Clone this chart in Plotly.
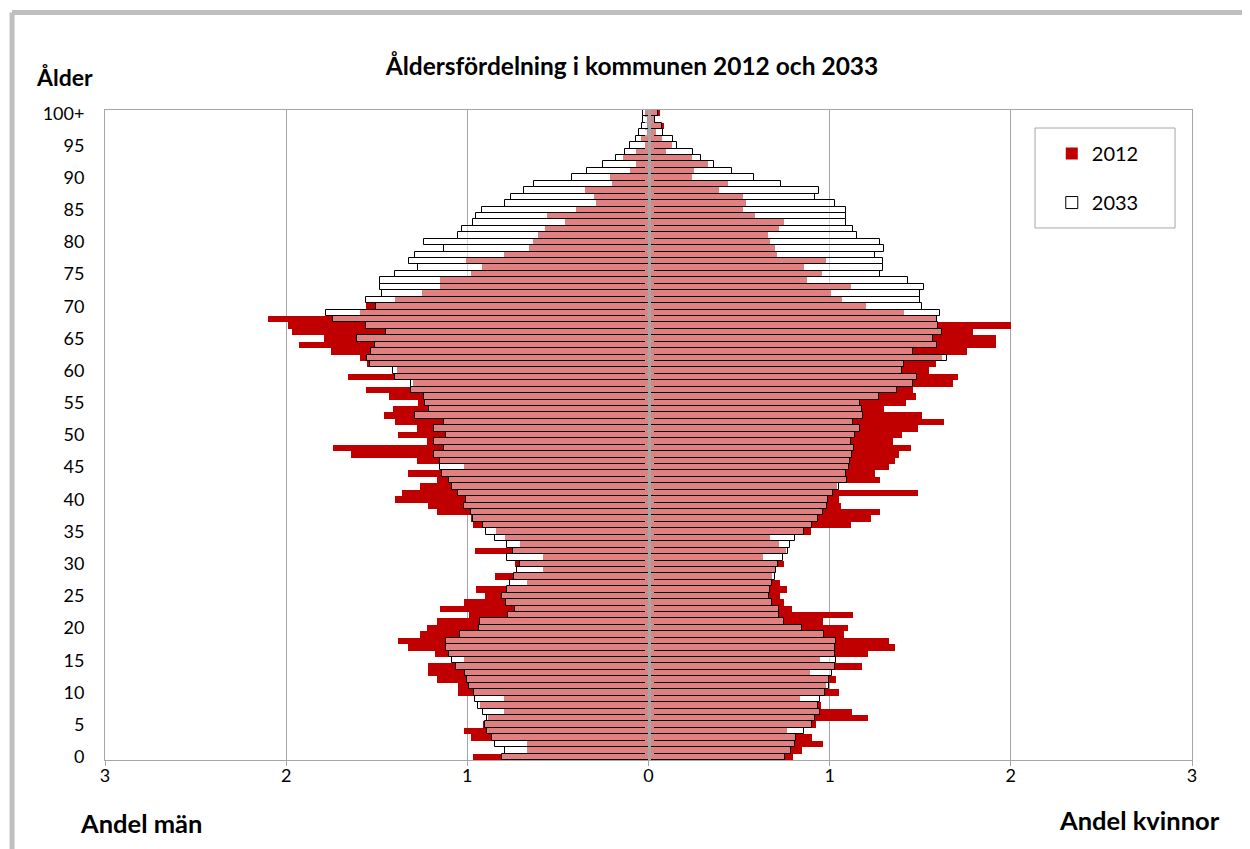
import plotly.graph_objects as go

# ---------------- data ----------------
ages = list(range(101))
age_ticks = list(range(0, 101, 5))
age_tick_labels = [str(a) for a in range(0, 100, 5)] + ["100+"]
x_ticks = [-3, -2, -1, 0, 1, 2, 3]
x_tick_labels = ["3", "2", "1", "0", "1", "2", "3"]

men_2012 = [0.97, 0.67, 0.67, 0.98, 1.02, 0.916, 0.885, 0.80, 0.93, 0.80,
            1.05, 1.05, 1.167, 1.216, 1.216, 1.02, 1.18, 1.326, 1.38, 1.26,
            1.22, 1.167, 0.99, 1.15, 1.02, 0.90, 0.95, 0.67, 0.85, 0.58,
            0.736, 0.58, 0.956, 0.71, 0.79, 0.84, 0.97, 0.98, 1.17, 1.215,
            1.40, 1.36, 1.26, 1.17, 1.33, 1.02, 1.28, 1.64, 1.74, 1.22,
            1.38, 1.28, 1.40, 1.46, 1.41, 1.27, 1.43, 1.56, 1.30, 1.66,
            1.39, 1.555, 1.59, 1.75, 1.93, 1.79, 1.97, 1.99, 2.10, 1.59,
            1.56, 1.40, 1.25, 1.15, 1.15, 0.98, 0.92, 1.005, 0.80, 0.66,
            0.64, 0.61, 0.57, 0.46, 0.56, 0.40, 0.29, 0.30, 0.35, 0.20,
            0.21, 0.10, 0.07, 0.14, 0.07, 0.02, 0.04, 0.01, 0.01, 0.01,
            0.02]

men_2033 = [0.806, 0.79, 0.85, 0.864, 0.89, 0.905, 0.89, 0.916, 0.94, 0.96,
            0.965, 0.99, 1.00, 1.015, 1.06, 1.084, 1.10, 1.117, 1.12, 1.04,
            0.934, 0.93, 0.776, 0.736, 0.786, 0.81, 0.78, 0.764, 0.74, 0.727,
            0.71, 0.78, 0.75, 0.78, 0.846, 0.895, 0.915, 0.97, 0.98, 1.02,
            1.01, 1.05, 1.085, 1.10, 1.14, 1.15, 1.15, 1.185, 1.13, 1.185,
            1.12, 1.185, 1.13, 1.29, 1.21, 1.235, 1.24, 1.31, 1.31, 1.40,
            1.41, 1.54, 1.555, 1.53, 1.51, 1.61, 1.45, 1.56, 1.74, 1.78,
            1.505, 1.56, 1.47, 1.48, 1.48, 1.40, 1.27, 1.32, 1.29, 1.13,
            1.24, 1.05, 1.03, 0.97, 0.95, 0.92, 0.79, 0.76, 0.69, 0.63,
            0.42, 0.34, 0.25, 0.18, 0.13, 0.10, 0.07, 0.05, 0.035, 0.03,
            0.03]

women_2012 = [0.80, 0.847, 0.963, 0.90, 0.766, 0.926, 1.21, 1.125, 0.954, 0.834,
              1.05, 0.98, 1.037, 0.89, 1.18, 0.945, 1.21, 1.36, 1.33, 1.08,
              1.10, 0.963, 1.13, 0.79, 0.75, 0.727, 0.766, 0.724, 0.68, 0.70,
              0.75, 0.63, 0.76, 0.72, 0.67, 0.895, 1.12, 1.23, 1.28, 1.06,
              1.05, 1.49, 1.04, 1.28, 1.25, 1.33, 1.36, 1.38, 1.45, 1.35,
              1.40, 1.49, 1.63, 1.51, 1.30, 1.42, 1.475, 1.46, 1.68, 1.71,
              1.55, 1.585, 1.62, 1.76, 1.92, 1.92, 1.79, 2.00, 1.59, 1.41,
              1.20, 1.07, 1.01, 1.12, 0.875, 0.96, 0.86, 0.98, 0.71, 0.70,
              0.67, 0.66, 0.72, 0.75, 0.59, 0.52, 0.54, 0.52, 0.39, 0.44,
              0.24, 0.25, 0.33, 0.24, 0.094, 0.13, 0.075, 0.04, 0.088, 0.03,
              0.064]

women_2033 = [0.755, 0.785, 0.81, 0.816, 0.86, 0.90, 0.92, 0.945, 0.935, 0.945,
              0.976, 0.996, 0.996, 1.013, 1.03, 1.037, 1.03, 1.03, 1.037, 0.97,
              0.85, 0.75, 0.72, 0.72, 0.68, 0.663, 0.67, 0.68, 0.70, 0.705,
              0.715, 0.74, 0.77, 0.78, 0.81, 0.86, 0.905, 0.935, 0.963, 0.985,
              0.99, 1.02, 1.05, 1.096, 1.09, 1.107, 1.11, 1.125, 1.135, 1.12,
              1.14, 1.165, 1.13, 1.185, 1.18, 1.165, 1.27, 1.37, 1.46, 1.48,
              1.40, 1.41, 1.645, 1.46, 1.59, 1.57, 1.62, 1.60, 1.595, 1.61,
              1.51, 1.50, 1.50, 1.52, 1.43, 1.28, 1.295, 1.295, 1.25, 1.30,
              1.28, 1.15, 1.13, 1.09, 1.09, 1.09, 1.03, 0.92, 0.94, 0.73,
              0.58, 0.46, 0.36, 0.29, 0.245, 0.16, 0.135, 0.08, 0.075, 0.035,
              0.055]

# ---------------- styling ----------------
FONT = "Lato"
RED = "#C00000"
GRID = "#A6A6A6"
WHITE_SEMI = "rgba(255,255,255,0.5)"

fig = go.Figure()

fig.add_trace(go.Bar(y=ages, x=[-v for v in men_2012], orientation="h",
                     marker=dict(color=RED, line=dict(width=0)),
                     name="2012", legendgroup="2012", showlegend=True,
                     hoverinfo="skip"))
fig.add_trace(go.Bar(y=ages, x=women_2012, orientation="h",
                     marker=dict(color=RED, line=dict(width=0)),
                     name="2012", legendgroup="2012", showlegend=False,
                     hoverinfo="skip"))
fig.add_trace(go.Bar(y=ages, x=[-v for v in men_2033], orientation="h",
                     marker=dict(color=WHITE_SEMI, line=dict(color="#000000", width=1)),
                     name="2033", legendgroup="2033", showlegend=True,
                     hoverinfo="skip"))
fig.add_trace(go.Bar(y=ages, x=women_2033, orientation="h",
                     marker=dict(color=WHITE_SEMI, line=dict(color="#000000", width=1)),
                     name="2033", legendgroup="2033", showlegend=False,
                     hoverinfo="skip"))

# invisible helpers so the central (x = 0) vertical axis is drawn above the bars
for ax in ("y2", "y3"):
    fig.add_trace(go.Scatter(x=[0], y=[50], yaxis=ax, mode="markers",
                             marker=dict(opacity=0), showlegend=False,
                             hoverinfo="skip"))

center_axis = dict(overlaying="y", anchor="free", position=0.5,
                   range=[-0.5, 100.5], showline=True, linecolor=GRID, linewidth=3,
                   tick0=-0.5, dtick=1, ticklen=3, tickcolor=GRID, tickwidth=1,
                   showticklabels=False, showgrid=False, zeroline=False,
                   layer="above traces", fixedrange=True)

fig.update_layout(
    width=1242, height=841,
    margin=dict(l=97, r=58, t=102, b=89),
    paper_bgcolor="white", plot_bgcolor="white",
    barmode="overlay", bargap=0,
    font=dict(family=FONT, size=17, color="#000000"),
    title=dict(text="<b>Åldersfördelning i kommunen 2012 och 2033</b>",
               x=0.5024, y=0.930, xanchor="center", yanchor="middle",
               font=dict(family=FONT, size=24.5, color="#000000")),
    xaxis=dict(range=[-3, 3], tickvals=x_ticks, ticktext=x_tick_labels,
               showgrid=True, gridcolor=GRID, gridwidth=1, zeroline=False,
               showline=True, linecolor=GRID, linewidth=1, mirror=True,
               ticks="outside", ticklen=5, tickcolor=GRID, ticklabelstandoff=-6,
               tickfont=dict(size=18), fixedrange=True),
    yaxis=dict(range=[-0.5, 100.5], tickvals=age_ticks, ticktext=age_tick_labels,
               showgrid=False, zeroline=False, showline=True, linecolor=GRID,
               linewidth=1, mirror=True, ticks="", ticklabelstandoff=16,
               tickfont=dict(size=18), fixedrange=True),
    yaxis2=dict(center_axis, ticks="outside"),
    yaxis3=dict(center_axis, ticks="inside"),
    legend=dict(x=0.871, y=0.963, xanchor="left", yanchor="top",
                borderwidth=0, bgcolor="rgba(0,0,0,0)",
                font=dict(size=20), traceorder="grouped", tracegroupgap=20,
                itemwidth=30),
    annotations=[
        dict(text="<b>Ålder</b>", xref="paper", yref="paper", x=-0.0368, y=1.0508,
             showarrow=False, font=dict(size=23), xanchor="center", yanchor="middle"),
        dict(text="<b>Andel män</b>", xref="paper", yref="paper", x=0.0331, y=-0.097,
             showarrow=False, font=dict(size=25.5), xanchor="center", yanchor="middle"),
        dict(text="<b>Andel kvinnor</b>", xref="paper", yref="paper", x=0.952, y=-0.092,
             showarrow=False, font=dict(size=25.5), xanchor="center", yanchor="middle"),
    ],
    shapes=[
        # legend frame
        dict(type="rect", xref="paper", yref="paper", x0=0.8556, x1=0.9844,
             y0=0.8185, y1=0.9723, line=dict(color=GRID, width=1),
             fillcolor="rgba(0,0,0,0)", layer="above"),
        # outer chart frame (top and left edges visible)
        dict(type="line", xref="paper", yref="paper", x0=-0.0855, x1=1.06,
             y0=1.150, y1=1.150, line=dict(color="#BFBFBF", width=5)),
        dict(type="line", xref="paper", yref="paper", x0=-0.0855, x1=-0.0855,
             y0=1.150, y1=-0.14, line=dict(color="#BFBFBF", width=5)),
    ],
)

fig.write_html("out.html")
